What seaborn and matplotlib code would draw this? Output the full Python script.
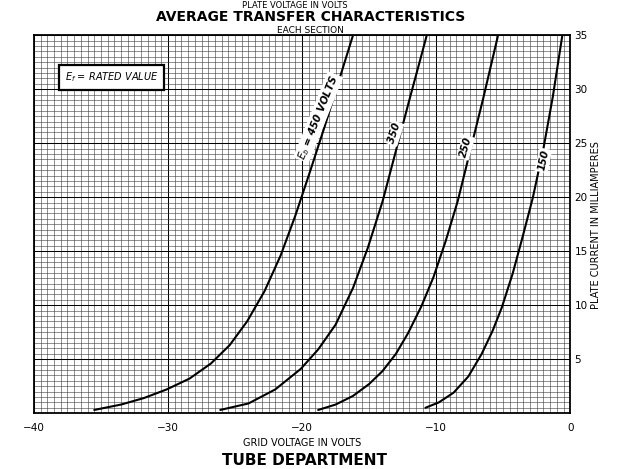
import numpy as np
import pandas as pd
import seaborn as sns
import matplotlib.pyplot as plt
from matplotlib.ticker import MultipleLocator

# Curves: grid volts vs plate current (mA)
grid_450 = [-35.5, -33.5, -31.8, -30.1, -28.4, -26.8, -25.4, -24.1, -22.8, -21.6,
            -20.5, -19.4, -18.3, -17.3, -16.2]
cur_450 = [0.3, 0.8, 1.4, 2.2, 3.2, 4.6, 6.3, 8.5, 11.3, 14.6,
           18.3, 22.4, 26.6, 30.6, 35.0]
grid_350 = [-26.1, -24.0, -22.0, -20.1, -18.8, -17.5, -16.2, -15.1, -14.0, -13.0,
            -12.0, -11.0, -10.7]
cur_350 = [0.3, 0.9, 2.2, 4.1, 5.9, 8.2, 11.6, 15.3, 19.6, 24.3,
           29.0, 33.6, 35.0]
grid_250 = [-18.8, -17.5, -16.2, -15.0, -14.0, -13.0, -12.1, -11.1, -10.2, -9.3,
            -8.4, -7.5, -6.5, -5.4]
cur_250 = [0.3, 0.8, 1.6, 2.7, 3.9, 5.5, 7.4, 9.9, 12.6, 15.9,
           19.6, 24.1, 29.1, 34.9]
grid_150 = [-10.8, -9.8, -8.7, -7.6, -6.6, -5.8, -5.1, -4.3, -3.6, -2.8,
            -2.0, -1.3, -0.6]
cur_150 = [0.5, 1.0, 1.9, 3.4, 5.5, 7.6, 9.8, 12.9, 16.1, 19.9,
           24.5, 29.3, 34.9]

x_ticks = [-40, -30, -20, -10, 0]
x_tick_labels = ["\u221240", "\u221230", "\u221220", "\u221210", "0"]
y_ticks = [5, 10, 15, 20, 25, 30, 35]

# curve labels: text, grid volts, current, angle
curve_labels = [
    ("$E_b$ = 450 VOLTS", -18.8, 27.4, 68),
    ("350", -13.1, 25.9, 72),
    ("250", -7.8, 24.6, 74),
    ("150", -2.0, 23.4, 78),
]

frames = []
for name, gx, cy in [("450", grid_450, cur_450), ("350", grid_350, cur_350),
                     ("250", grid_250, cur_250), ("150", grid_150, cur_150)]:
    frames.append(pd.DataFrame({"grid": gx, "current": cy, "plate": name}))
df = pd.concat(frames, ignore_index=True)

sns.set_style("white")
plt.rcParams["font.family"] = ["DejaVu Sans"]
plt.rcParams["text.color"] = "black"
plt.rcParams["axes.labelcolor"] = "black"
plt.rcParams["xtick.color"] = "black"
plt.rcParams["ytick.color"] = "black"

fig = plt.figure(figsize=(6.4, 4.69), dpi=100)
ax = fig.add_axes([0.053, 0.119, 0.838, 0.806])

sns.lineplot(data=df, x="grid", y="current", hue="plate", units="plate",
             estimator=None, sort=False, palette=["black"] * 4,
             linewidth=1.5, legend=False, ax=ax, zorder=5)

ax.set_xlim(-40, 0)
ax.set_ylim(0, 35)

# graph-paper grid
ax.xaxis.set_major_locator(MultipleLocator(5))
ax.yaxis.set_major_locator(MultipleLocator(5))
ax.xaxis.set_minor_locator(MultipleLocator(0.5))
ax.yaxis.set_minor_locator(MultipleLocator(0.5))
ax.grid(which="minor", color="#3a3a3a", linewidth=0.4)
ax.grid(which="major", color="black", linewidth=0.75)
ax.set_axisbelow(True)
for s in ax.spines.values():
    s.set_color("black")
    s.set_linewidth(1.3)

ax.tick_params(which="both", length=0)
ax.set_xticks(x_ticks)
ax.set_xticklabels(x_tick_labels, fontsize=7.5)
ax.tick_params(axis="x", pad=7)
ax.yaxis.tick_right()
ax.set_yticks(y_ticks)
ax.set_yticklabels([str(v) for v in y_ticks], fontsize=7.5)
ax.tick_params(axis="y", pad=3)
ax.xaxis.set_minor_locator(MultipleLocator(0.5))
ax.yaxis.set_minor_locator(MultipleLocator(0.5))

ax.set_xlabel("GRID VOLTAGE IN VOLTS", fontsize=7, labelpad=4)
ax.set_ylabel("")
fig.text(0.932, 0.52, "PLATE CURRENT IN MILLIAMPERES", rotation=90,
         ha="center", va="center", fontsize=7)

for text, gx, cy, ang in curve_labels:
    ax.text(gx, cy, text, rotation=ang, ha="center", va="center",
            fontsize=7.3, style="italic", fontweight="bold", zorder=6,
            bbox=dict(facecolor="white", edgecolor="none", pad=1.0))

ax.text(-34.2, 31.1, "$E_f$ = RATED VALUE", ha="center", va="center",
        fontsize=7, style="italic", zorder=6,
        bbox=dict(facecolor="white", edgecolor="black", linewidth=1.6,
                  boxstyle="square,pad=0.6"))

fig.text(0.46, 0.989, "PLATE VOLTAGE IN VOLTS", ha="center", va="center",
         fontsize=6)
fig.text(0.485, 0.963, "AVERAGE TRANSFER CHARACTERISTICS", ha="center",
         va="center", fontsize=10, fontweight="bold")
fig.text(0.485, 0.935, "EACH SECTION", ha="center", va="center", fontsize=6.5)
fig.text(0.475, 0.018, "TUBE DEPARTMENT", ha="center", va="center",
         fontsize=11, fontweight="bold")

fig.savefig("out.png", dpi=100)
